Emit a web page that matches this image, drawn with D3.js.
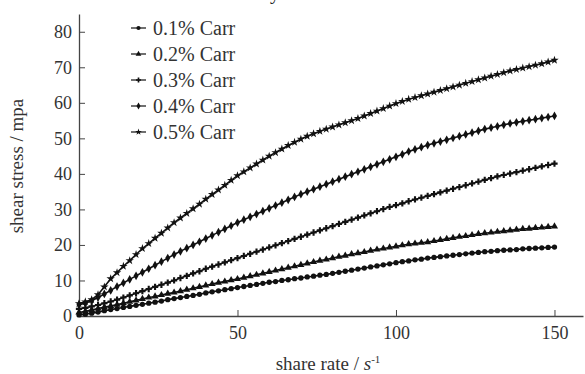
<!DOCTYPE html>
<html>
<head>
<meta charset="utf-8">
<script src="https://cdn.jsdelivr.net/npm/d3@7"></script>
<style>
  html, body { margin: 0; padding: 0; background: #fff; }
  svg { display: block; font-family: 'Liberation Serif', 'DejaVu Serif', serif; }
</style>
</head>
<body>
<div id="chart"></div>
<script>
// shear rate (s^-1) values, shared by every series
const rates = [0, 2, 4, 6, 8, 10, 12, 14, 16, 18, 20, 22, 24, 26, 28, 30, 32, 34, 36, 38,
  40, 42, 44, 46, 48, 50, 52, 54, 56, 58, 60, 62, 64, 66, 68, 70, 72, 74, 76, 78,
  80, 82, 84, 86, 88, 90, 92, 94, 96, 98, 100, 102, 104, 106, 108, 110, 112, 114, 116, 118,
  120, 122, 124, 126, 128, 130, 132, 134, 136, 138, 140, 142, 144, 146, 148, 150];

const seriesNames = ['0.1% Carr', '0.2% Carr', '0.3% Carr', '0.4% Carr', '0.5% Carr'];

const carr01 = [0.3, 0.5, 0.8, 1.1, 1.5, 1.8, 2.1, 2.4, 2.7, 3.0, 3.3, 3.6, 3.9, 4.2, 4.6, 4.9, 5.2, 5.5, 5.8, 6.1,
  6.5, 6.8, 7.1, 7.4, 7.7, 8.0, 8.3, 8.6, 8.9, 9.2, 9.5, 9.7, 10.0, 10.2, 10.5, 10.7, 11.0, 11.2, 11.5, 11.7,
  12.0, 12.3, 12.6, 12.9, 13.2, 13.5, 13.8, 14.1, 14.4, 14.7, 15.0, 15.3, 15.5, 15.8, 16.0, 16.3, 16.5, 16.7, 16.9, 17.1,
  17.3, 17.5, 17.7, 17.9, 18.1, 18.2, 18.4, 18.5, 18.6, 18.7, 18.9, 19.0, 19.1, 19.2, 19.3, 19.4];

const carr02 = [1.0, 1.3, 1.7, 2.1, 2.5, 2.8, 3.2, 3.6, 4.0, 4.4, 4.8, 5.2, 5.5, 5.9, 6.3, 6.6, 7.0, 7.4, 7.8, 8.2,
  8.6, 9.0, 9.4, 9.7, 10.1, 10.4, 10.8, 11.2, 11.6, 12.0, 12.4, 12.8, 13.2, 13.6, 14.0, 14.4, 14.8, 15.2, 15.6, 15.9,
  16.3, 16.7, 17.0, 17.4, 17.7, 18.0, 18.4, 18.7, 19.0, 19.3, 19.6, 19.9, 20.2, 20.4, 20.6, 20.8, 21.1, 21.4, 21.7, 22.0,
  22.3, 22.5, 22.8, 23.1, 23.3, 23.5, 23.7, 23.9, 24.1, 24.3, 24.5, 24.6, 24.8, 24.9, 25.1, 25.2];

const carr03 = [2.0, 2.3, 2.7, 3.1, 3.6, 4.1, 4.6, 5.2, 5.8, 6.4, 7.0, 7.6, 8.2, 8.8, 9.4, 10.0, 10.7, 11.3, 12.0, 12.6,
  13.3, 13.9, 14.5, 15.1, 15.7, 16.3, 16.9, 17.5, 18.1, 18.7, 19.3, 19.9, 20.5, 21.1, 21.7, 22.3, 22.9, 23.5, 24.1, 24.7,
  25.3, 25.9, 26.5, 27.1, 27.7, 28.3, 28.9, 29.5, 30.1, 30.7, 31.2, 31.7, 32.3, 32.8, 33.3, 33.8, 34.3, 34.8, 35.3, 35.8,
  36.3, 36.8, 37.3, 37.8, 38.3, 38.8, 39.3, 39.7, 40.1, 40.5, 40.9, 41.3, 41.7, 42.1, 42.5, 42.9];

const carr04 = [3.2, 3.6, 4.3, 5.2, 6.2, 7.2, 8.3, 9.3, 10.3, 11.3, 12.3, 13.3, 14.3, 15.3, 16.3, 17.3, 18.2, 19.1, 20.0, 20.9,
  21.8, 22.7, 23.6, 24.5, 25.4, 26.3, 27.1, 27.9, 28.7, 29.5, 30.3, 31.1, 31.9, 32.7, 33.5, 34.3, 35.0, 35.7, 36.4, 37.1,
  37.8, 38.5, 39.2, 39.9, 40.6, 41.3, 42.0, 42.7, 43.4, 44.1, 44.8, 45.5, 46.3, 46.9, 47.5, 48.1, 48.6, 49.1, 49.6, 50.1,
  50.6, 51.1, 51.6, 52.1, 52.6, 53.0, 53.4, 53.8, 54.2, 54.5, 54.8, 55.1, 55.4, 55.7, 56.0, 56.3];

const carr05 = [3.5, 4.0, 4.6, 6.0, 8.2, 10.5, 12.2, 14.0, 15.6, 17.3, 19.0, 20.4, 21.9, 23.3, 24.8, 26.3, 27.6, 28.9, 30.2, 31.5,
  32.9, 34.2, 35.5, 36.8, 38.2, 39.5, 40.6, 41.7, 42.8, 43.9, 45.0, 46.0, 47.0, 48.0, 48.9, 49.8, 50.6, 51.3, 52.0, 52.6,
  53.2, 53.8, 54.4, 55.0, 55.6, 56.3, 57.0, 57.7, 58.4, 59.1, 59.8, 60.4, 61.0, 61.5, 62.0, 62.5, 63.0, 63.5, 64.0, 64.5,
  65.0, 65.5, 66.0, 66.5, 67.0, 67.5, 68.0, 68.5, 69.0, 69.4, 69.8, 70.2, 70.6, 71.0, 71.5, 72.0];

const xTicks = [0, 50, 100, 150];
const yTicks = [0, 10, 20, 30, 40, 50, 60, 70, 80];

const width = 585;
const height = 374;
const margin = { top: 14, right: 2, bottom: 58, left: 79 };

const symbols = [d3.symbolCircle, d3.symbolTriangle, d3.symbolCross, d3.symbolDiamond, d3.symbolStar];

const svg = d3.select('#chart').append('svg')
  .attr('width', width)
  .attr('height', height);

const x = d3.scaleLinear()
  .domain([0, 159])
  .range([margin.left, width - margin.right]);

const y = d3.scaleLinear()
  .domain([0, 85])
  .range([height - margin.bottom, margin.top]);

// clipped fragment of the title at the very top edge, as in the source image
svg.append('text')
  .attr('x', 270)
  .attr('y', -1)
  .style('font-size', '20px')
  .style('fill', '#222')
  .text('y');

// axes, ticks pointing inward
const xAxis = svg.append('g')
  .attr('transform', 'translate(0,' + y(0) + ')')
  .call(d3.axisBottom(x).tickValues(xTicks).tickSizeInner(-6).tickSizeOuter(0).tickPadding(10));

const yAxis = svg.append('g')
  .attr('transform', 'translate(' + x(0) + ',0)')
  .call(d3.axisLeft(y).tickValues(yTicks).tickSizeInner(-6).tickSizeOuter(0).tickPadding(7));

[xAxis, yAxis].forEach(a => {
  a.select('.domain').attr('stroke', '#444').attr('stroke-width', 1.3);
  a.selectAll('.tick line').attr('stroke', '#444').attr('stroke-width', 1);
  a.selectAll('.tick text')
    .style('font-family', "'Liberation Serif', serif")
    .style('font-size', '18px')
    .attr('fill', '#333');
});

// axis titles
svg.append('text')
  .attr('x', 328)
  .attr('y', 370)
  .attr('text-anchor', 'middle')
  .style('font-size', '19px')
  .attr('fill', '#333')
  .call(t => {
    t.append('tspan').text('share rate / ');
    t.append('tspan').style('font-style', 'italic').text('s');
    t.append('tspan').attr('dy', -7).style('font-size', '11px').text('-1');
  });

svg.append('text')
  .attr('transform', 'translate(23,' + 166 + ') rotate(-90)')
  .attr('text-anchor', 'middle')
  .style('font-size', '19px')
  .attr('fill', '#333')
  .text('shear stress / mpa');

// series
const allSeries = [carr01, carr02, carr03, carr04, carr05];

const line = d3.line()
  .x((d, i) => x(rates[i]))
  .y(d => y(d));

const plot = svg.append('g');

allSeries.forEach((values, s) => {
  plot.append('path')
    .datum(values)
    .attr('d', line)
    .attr('fill', 'none')
    .attr('stroke', '#111')
    .attr('stroke-width', 1.6);

  plot.selectAll('.m' + s)
    .data(values)
    .enter()
    .append('path')
    .attr('class', 'm' + s)
    .attr('transform', (d, i) => 'translate(' + x(rates[i]) + ',' + y(d) + ')')
    .attr('d', d3.symbol().type(symbols[s]).size(22))
    .attr('fill', '#111');
});

// legend
const legend = svg.selectAll('.legend')
  .data(seriesNames)
  .enter()
  .append('g')
  .attr('class', 'legend')
  .attr('transform', (d, i) => 'translate(131,' + (28 + i * 26) + ')');

legend.append('line')
  .attr('x1', 0)
  .attr('x2', 15)
  .attr('stroke', '#222')
  .attr('stroke-width', 1.3);

legend.append('path')
  .attr('transform', 'translate(7.5,0)')
  .attr('d', (d, i) => d3.symbol().type(symbols[i]).size(14)())
  .attr('fill', '#111');

legend.append('text')
  .attr('x', 22)
  .attr('dy', '0.35em')
  .style('font-size', '20px')
  .attr('fill', '#333')
  .text(d => d);
</script>
</body>
</html>
